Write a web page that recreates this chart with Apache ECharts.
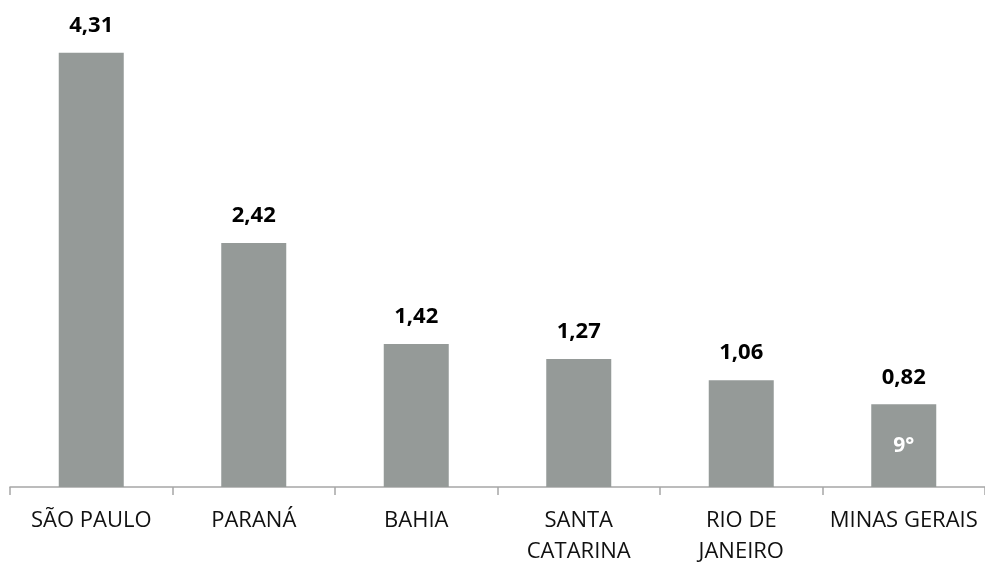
<!DOCTYPE html>
<html>
<head>
<meta charset="utf-8">
<script src="https://cdn.jsdelivr.net/npm/echarts@6/dist/echarts.min.js"></script>
<style>
  html, body { margin: 0; padding: 0; background: #fff; }
  #chart { width: 985px; height: 567px; }
</style>
</head>
<body>
<div id="chart"></div>
<script>
// States and their values
const states = ['SÃO PAULO', 'PARANÁ', 'BAHIA', 'SANTA\nCATARINA', 'RIO DE\nJANEIRO', 'MINAS GERAIS'];
const values = [4.31, 2.42, 1.42, 1.27, 1.06, 0.82];
// Ranking tag shown inside a bar (empty where none)
const ranks = ['', '', '', '', '', '9°'];

const fmt = v => v.toFixed(2).replace('.', ',');
const barColor = '#959a98';
const fontFamily = '"Open Sans", "Noto Sans", sans-serif';

const rankPoints = [];
ranks.forEach((r, i) => {
  if (r) rankPoints.push({ value: [i, values[i] / 2], rank: r });
});

const chart = echarts.init(document.getElementById('chart'), null, { renderer: 'canvas' });
chart.setOption({
  animation: false,
  grid: { left: 10, right: 0, top: 33.5, bottom: 75 },
  xAxis: {
    type: 'category',
    data: states,
    axisLine: { lineStyle: { color: '#a6a6a6', width: 1.5 } },
    axisTick: { show: true, length: 8, lineStyle: { color: '#a6a6a6', width: 1.5 } },
    axisLabel: {
      color: '#111',
      fontSize: 22,
      fontFamily: fontFamily,
      margin: 18,
      lineHeight: 31,
      interval: 0
    }
  },
  yAxis: {
    type: 'value',
    min: 0,
    max: 4.5,
    show: false,
    splitLine: { show: false }
  },
  series: [
    {
      type: 'bar',
      data: values,
      barWidth: '40%',
      itemStyle: { color: barColor },
      label: {
        show: true,
        position: 'top',
        distance: 16,
        color: '#000',
        fontSize: 22,
        fontWeight: 'bold',
        fontFamily: fontFamily,
        formatter: p => fmt(p.value)
      }
    },
    {
      type: 'scatter',
      data: rankPoints,
      symbolSize: 0,
      silent: true,
      itemStyle: { opacity: 1, color: barColor },
      label: {
        show: true,
        position: 'inside',
        color: '#ffffff',
        opacity: 1,
        fontSize: 21,
        fontWeight: 'bold',
        fontFamily: fontFamily,
        formatter: p => p.data.rank
      }
    }
  ]
});
</script>
</body>
</html>
